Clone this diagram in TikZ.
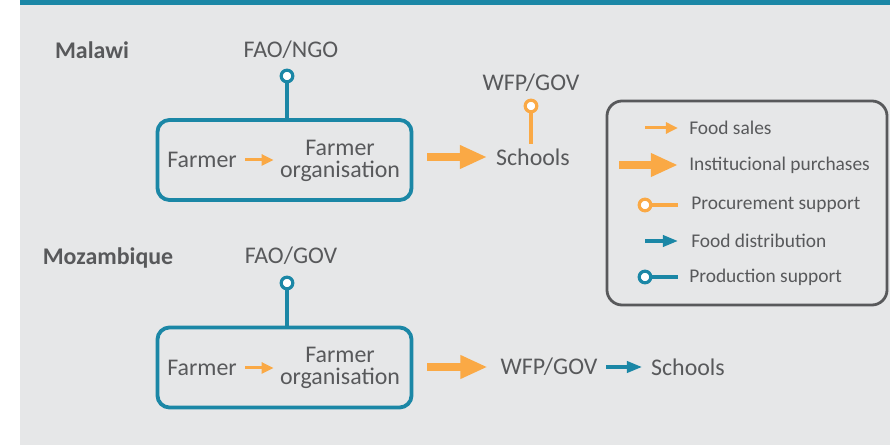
\documentclass[tikz,border=0pt]{standalone}
\usepackage{fontspec}
\setmainfont{Carlito}
\usetikzlibrary{arrows.meta, positioning, calc}
\definecolor{FigTeal}{HTML}{1B87A6}
\definecolor{FigOrange}{HTML}{FAA945}
\definecolor{FigGrey}{HTML}{E6E7E8}
\definecolor{FigText}{HTML}{58595B}
\definecolor{FigFrame}{HTML}{58595B}
\tikzset{
    % Node styles
    farmbox/.style={
        rectangle,
        rounded corners=0.3cm,
        draw=FigTeal,
        line width=0.095cm,
        minimum width=6.35cm,
        minimum height=2.0cm
    },
    legendbox/.style={
        rectangle,
        rounded corners=0.38cm,
        draw=FigFrame,
        line width=0.07cm,
        minimum width=7cm,
        minimum height=5.1cm
    },
    plain/.style={
        text=FigText,
        inner sep=0pt,
        font=\fontsize{17}{15.5}\selectfont
    },
    country/.style={
        plain,
        font=\fontsize{17}{15}\selectfont\bfseries
    },
    legendtext/.style={
        text=FigText,
        inner sep=0pt,
        anchor=west,
        font=\fontsize{13.8}{15}\selectfont
    },
    pin/.style={
        circle,
        fill=white,
        line width=0.08cm,
        minimum size=0.29cm,
        inner sep=0pt
    },
    % Arrow styles
    salesarrow/.style={
        -{Triangle[length=0.3cm,width=0.27cm]},
        FigOrange,
        line width=0.075cm
    },
    buyarrow/.style={
        -{Triangle[length=0.68cm,width=0.55cm]},
        FigOrange,
        line width=0.22cm
    },
    distarrow/.style={
        -{Triangle[length=0.38cm,width=0.28cm]},
        FigTeal,
        line width=0.085cm
    },
    stem/.style={
        line width=0.09cm
    }
}

\begin{document}
\begin{tikzpicture}[x=0.025cm, y=-0.025cm]
    \useasboundingbox (0,0) rectangle (890,445);

    % Background and top band
    \fill[FigGrey] (20,0) rectangle (890,445);
    \fill[FigTeal] (20,0) rectangle (890,5);

    % Malawi
    \node[country] (malawi) at (92,50) {Malawi};
    \node[plain] (faongo) at (291,50) {FAO/NGO};
    \node[farmbox] (box1) at (284.5,160) {};
    \node[plain] (farmer1) at (202,160) {Farmer};
    \node[plain, align=center] (org1) at (340,160.5) {Farmer\\organisation};
    \node[pin, draw=FigTeal] (pin1) at (287,76) {};
    \draw[stem, FigTeal] (pin1) -- (pin1 |- box1.north);
    \draw[salesarrow, shorten <=0.2cm, shorten >=0.15cm] (farmer1.east) -- (org1.west |- farmer1.east);

    % Malawi schools
    \node[plain] (schools1) at (533,157) {Schools};
    \node[plain] (wfp1) at (531,83) {WFP/GOV};
    \node[pin, draw=FigOrange] (pin2) at (531,106) {};
    \draw[stem, FigOrange, shorten >=0.12cm] (pin2) -- (pin2 |- schools1.north);
    \draw[buyarrow, shorten <=0.35cm, shorten >=0.22cm] (box1.east |- schools1) -- (schools1.west);

    % Mozambique
    \node[country] (mozambique) at (108,258) {Mozambique};
    \node[plain] (faogov) at (291,256) {FAO/GOV};
    \node[farmbox] (box2) at (284.5,367.5) {};
    \node[plain] (farmer2) at (202,368) {Farmer};
    \node[plain, align=center] (org2) at (340,368) {Farmer\\organisation};
    \node[pin, draw=FigTeal] (pin3) at (287,283) {};
    \draw[stem, FigTeal] (pin3) -- (pin3 |- box2.north);
    \draw[salesarrow, shorten <=0.2cm, shorten >=0.15cm] (farmer2.east) -- (org2.west |- farmer2.east);

    % Mozambique chain
    \node[plain] (wfp2) at (549,367) {WFP/GOV};
    \node[plain] (schools2) at (688,367) {Schools};
    \draw[buyarrow, shorten <=0.35cm, shorten >=0.32cm] (box2.east |- wfp2) -- (wfp2.west);
    \draw[distarrow, shorten <=0.22cm, shorten >=0.22cm] (wfp2.east) -- (schools2.west);

    % Legend
    \node[legendbox] (legend) at (747,203) {};
    \node[legendtext] (lsales) at (689,128) {Food sales};
    \node[legendtext] (lbuy) at (689,165) {Institucional purchases};
    \node[legendtext] (lproc) at (691,205) {Procurement support};
    \node[legendtext] (ldist) at (691,241) {Food distribution};
    \node[legendtext] (lprod) at (689,277) {Production support};
    \coordinate (lsalesstart) at (645,128);
    \coordinate (lbuystart) at (619,165);
    \coordinate (ldiststart) at (645,241);
    \node[pin, draw=FigOrange] (lprocpin) at (645,205) {};
    \node[pin, draw=FigTeal] (lprodpin) at (645,277) {};
    \draw[salesarrow, shorten >=0.275cm] (lsalesstart) -- (lsales.west);
    \draw[buyarrow, shorten >=0.275cm] (lbuystart) -- (lbuy.west);
    \draw[stem, FigOrange, shorten >=0.325cm] (lprocpin) -- (lproc.west);
    \draw[distarrow, shorten >=0.325cm] (ldiststart) -- (ldist.west);
    \draw[stem, FigTeal, shorten >=0.275cm] (lprodpin) -- (lprod.west);
\end{tikzpicture}
\end{document}
